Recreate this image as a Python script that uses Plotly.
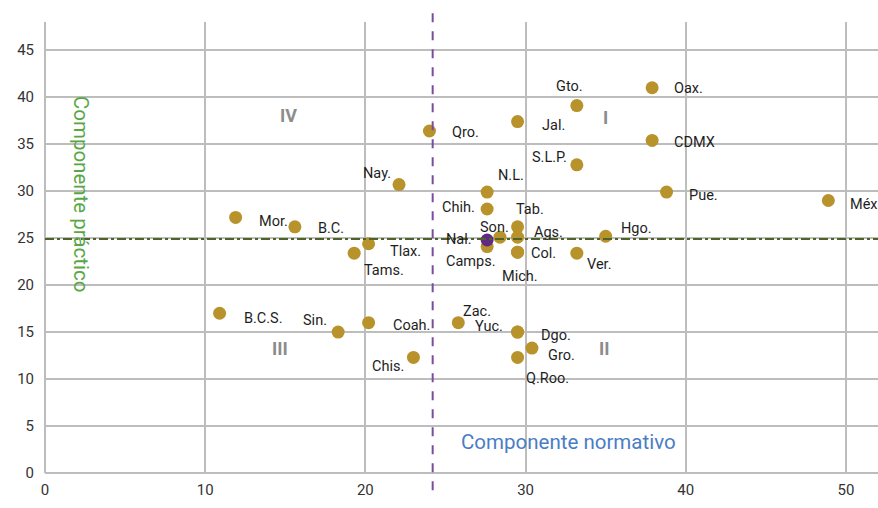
import plotly.graph_objects as go

# ---- data ----
states = ["Oax.", "Gto.", "Jal.", "Qro.", "CDMX", "S.L.P.", "Nay.", "N.L.", "Pue.", "Méx",
          "Chih.", "Mor.", "B.C.", "Tab.", "Son.", "Ags.", "Camps.", "Hgo.", "Tlax.", "Tams.",
          "Col.", "Mich.", "Ver.", "B.C.S.", "Sin.", "Coah.", "Chis.", "Zac.", "Yuc.", "Dgo.",
          "Gro.", "Q.Roo."]
normativo = [37.9, 33.2, 29.5, 24.0, 37.9, 33.2, 22.1, 27.6, 38.8, 48.9,
             27.6, 11.9, 15.6, 29.5, 28.4, 29.5, 27.6, 35.0, 20.2, 19.3,
             29.5, 29.5, 33.2, 10.9, 18.3, 20.2, 23.0, 25.8, 29.5, 29.5,
             30.4, 29.5]
practico = [41.0, 39.1, 37.4, 36.4, 35.4, 32.8, 30.7, 29.9, 29.9, 29.0,
            28.1, 27.2, 26.2, 26.2, 25.1, 25.1, 24.1, 25.2, 24.4, 23.4,
            23.5, 23.5, 23.4, 17.0, 15.0, 16.0, 12.3, 16.0, 15.0, 15.0,
            13.3, 12.3]
national_label = "Nal."
national_x = [27.6]
national_y = [24.8]
mean_normativo = 24.2
mean_practico = 24.9

quadrants = ["I", "II", "III", "IV"]
quad_x = [35.0, 34.9, 14.7, 15.2]
quad_y = [37.8, 13.2, 13.2, 38.0]

# ---- label placement (styling: pixel offsets and anchors) ----
label_style = {
    "Oax.": (20, -1, "left"), "Gto.": (-7, 19, "center"), "Jal.": (22, -4, "left"),
    "Qro.": (21, -2, "left"), "CDMX": (20, -2, "left"), "S.L.P.": (-27, 7, "center"),
    "Nay.": (-22, 11, "center"), "N.L.": (24, 17, "center"), "Pue.": (20, -3, "left"),
    "Méx": (20, -4, "left"), "Chih.": (-10, 1, "right"), "Mor.": (21, -4, "left"),
    "B.C.": (21, -2, "left"), "Tab.": (12, 17, "center"), "Son.": (-5, 10, "center"),
    "Ags.": (14, 5, "left"), "Camps.": (-16, -15, "center"), "Hgo.": (13, 8, "left"),
    "Tlax.": (19, -8, "left"), "Tams.": (8, -17, "left"), "Col.": (11, -1, "left"),
    "Mich.": (2, -24, "center"), "Ver.": (8, -11, "left"), "B.C.S.": (22, -5, "left"),
    "Sin.": (-9, 12, "right"), "Coah.": (22, -3, "left"), "Chis.": (-7, -9, "right"),
    "Zac.": (19, 11, "center"), "Yuc.": (-13, 6, "right"), "Dgo.": (21, -3, "left"),
    "Gro.": (14, -7, "left"), "Q.Roo.": (30, -21, "center"),
}

FONT = "Roboto, 'Noto Sans', sans-serif"
GOLD = "#B8922B"
GRID = "#BDBDBD"
LABEL_FONT = dict(family=FONT, size=14.5, color="#1E1E1E")

fig = go.Figure()
fig.add_trace(go.Scatter(x=normativo, y=practico, mode="markers",
                         marker=dict(color=GOLD, size=13), hoverinfo="text",
                         text=states, showlegend=False, cliponaxis=False))
fig.add_trace(go.Scatter(x=national_x, y=national_y, mode="markers",
                         marker=dict(color="#5E2A84", size=13), text=[national_label],
                         hoverinfo="text", showlegend=False, cliponaxis=False))

for s, xv, yv in zip(states, normativo, practico):
    dx, dy, anc = label_style[s]
    fig.add_annotation(x=xv, y=yv, text=s, showarrow=False, xanchor=anc, yanchor="middle",
                       xshift=dx, yshift=dy, font=LABEL_FONT)
fig.add_annotation(x=national_x[0], y=national_y[0], text=national_label, showarrow=False,
                   xanchor="right", yanchor="middle", xshift=-13, yshift=0, font=LABEL_FONT)

for q, xv, yv in zip(quadrants, quad_x, quad_y):
    fig.add_annotation(x=xv, y=yv, text="<b>" + q + "</b>", showarrow=False,
                       font=dict(family=FONT, size=18, color="#8C8C8C"))

# mean lines
fig.add_shape(type="line", xref="x", yref="paper", x0=mean_normativo, x1=mean_normativo,
              y0=-0.038, y1=1.038, line=dict(color="#7B4B9E", width=2, dash="dash"), layer="above")
fig.add_shape(type="line", xref="paper", yref="y", x0=0, x1=1, y0=mean_practico, y1=mean_practico,
              line=dict(color="#4F6228", width=2, dash="dashdot"), layer="above")

# axis titles as text
fig.add_annotation(x=32.7, y=3.3, text="Componente normativo", showarrow=False,
                   font=dict(family=FONT, size=20.5, color="#4A7DC6"))
fig.add_annotation(x=2.25, y=29.7, text="Componente práctico", showarrow=False, textangle=90,
                   font=dict(family=FONT, size=20.5, color="#57A845"))

fig.update_xaxes(range=[0, 52], tickvals=[0, 10, 20, 30, 40, 50], showgrid=True,
                 gridcolor=GRID, gridwidth=2, zeroline=True, zerolinecolor=GRID, zerolinewidth=2,
                 tickfont=dict(family=FONT, size=15, color="#333333"), ticks="",
                 ticklabelstandoff=6, fixedrange=True)
fig.update_yaxes(range=[0, 48], tickvals=[0, 5, 10, 15, 20, 25, 30, 35, 40, 45], showgrid=True,
                 gridcolor=GRID, gridwidth=2, zeroline=True, zerolinecolor=GRID, zerolinewidth=2,
                 tickfont=dict(family=FONT, size=15, color="#333333"), ticks="",
                 ticklabelstandoff=10, fixedrange=True)

fig.update_layout(width=878, height=508, margin=dict(l=45, r=0, t=22, b=35),
                  paper_bgcolor="white", plot_bgcolor="white", showlegend=False,
                  font=dict(family=FONT))

# remove the default page margin so the figure fills the window exactly
fig.write_html("out.html", config={"displayModeBar": False},
               post_script="document.body.style.margin='0';document.body.style.overflow='hidden';")
